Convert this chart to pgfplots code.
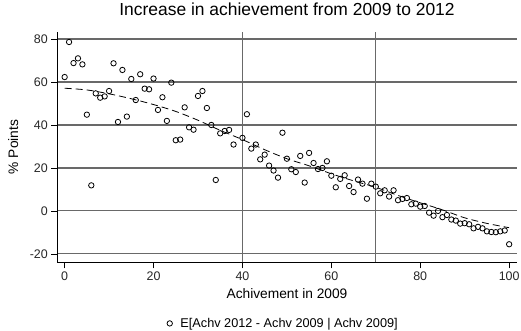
\documentclass[border=0pt]{standalone}
\usepackage{fontspec}
\setmainfont{Liberation Sans}
\usepackage{pgfplots}
\pgfplotsset{compat=1.18}
\definecolor{gridgray}{RGB}{105,105,105}
\begin{document}
\begin{tikzpicture}
\useasboundingbox (-57.3bp,-68.7bp) rectangle (463.7bp,262.3bp);
\begin{axis}[
  scale only axis, width=459.4bp, height=230.6bp,
  xmin=-1.65, xmax=101.7, ymin=-23.9, ymax=83.4,
  axis x line=bottom, axis y line=left,
  axis line style={-, black, line width=0.8bp},
  xtick={0,20,...,100}, ytick={-20,0,...,80},
  ymajorgrids, major grid style={gridgray, line width=1.1bp},
  tick align=outside, major tick length=6bp,
  tick style={black, line width=0.8bp},
  /pgf/number format/assume math mode=true,
  ticklabel style={font=\fontsize{12.5}{12.5}\selectfont, text=black!85},
  title={Increase in achievement from 2009 to 2012},
  title style={font=\fontsize{17.5}{17.5}\selectfont, at={(0.5,1)}, anchor=base, yshift=10.7bp},
  xlabel={Achivement in 2009},
  xlabel style={font=\fontsize{13.8}{13.8}\selectfont, at={(axis description cs:0.5,0)}, anchor=base, yshift=-36bp},
  ylabel={\% Points},
  ylabel style={font=\fontsize{13.8}{13.8}\selectfont, at={(axis description cs:-0.0855,0.5)}, anchor=base},
  legend style={at={(axis description cs:0.491,-0.265)}, anchor=center, draw=none, fill=none,
    font=\fontsize{12.75}{12.75}\selectfont},
  legend image code/.code={\draw[#1] plot coordinates {(0bp,0bp)}; \path (-3.5bp,0bp) (8.5bp,0bp);},
  clip=false,
]
\draw[gridgray, line width=1.1bp] (axis cs:40,-23.9) -- (axis cs:40,83.4);
\draw[gridgray, line width=1.1bp] (axis cs:70,-23.9) -- (axis cs:70,83.4);
\addplot[only marks, mark=o, mark size=2.7bp, mark options={line width=0.8bp, black}] coordinates {
(0,62.3)(1,78.6)(2,68.8)(3,71.0)(4,68.2)(5,44.8)(6,11.9)(7,54.7)(8,52.7)(9,53.3)
(10,55.8)(11,68.7)(12,41.4)(13,65.6)(14,43.9)(15,61.4)(16,51.6)(17,63.6)(18,56.9)(19,56.6)
(20,61.6)(21,47.0)(22,52.9)(23,41.9)(24,59.7)(25,32.9)(26,33.2)(27,48.2)(28,38.9)(29,37.8)
(30,53.5)(31,55.8)(32,47.9)(33,40.0)(34,14.4)(35,36.1)(36,37.2)(37,37.7)(38,30.9)
(40,34.0)(41,45.0)(42,29.0)(43,30.9)(44,24.0)(45,26.2)(46,21.1)(47,18.8)(48,15.5)(49,36.4)
(50,24.3)(51,19.4)(52,18.1)(53,25.6)(54,13.2)(55,27.0)(56,22.3)(57,19.5)(58,20.0)(59,23.1)
(60,16.4)(61,11.0)(62,14.9)(63,16.6)(64,11.6)(65,8.8)(66,14.6)(67,12.7)(68,5.7)(69,12.7)
(70,11.3)(71,8.2)(72,9.6)(73,6.7)(74,9.6)(75,5.0)(76,5.6)(77,6.0)(78,3.1)(79,3.4)
(80,2.0)(81,2.3)(82,-0.8)(83,-2.2)(84,0.0)(85,-2.9)(86,-1.9)(87,-4.0)(88,-4.5)(89,-5.9)
(90,-5.7)(91,-6.2)(92,-8.1)(93,-7.4)(94,-8.1)(95,-9.5)(96,-9.8)(97,-9.9)(98,-9.5)(99,-9.1)
(100,-15.5)
};
\addlegendentry{E[Achv 2012 - Achv 2009 | Achv 2009]}
\addplot[black, line width=0.8bp, dash pattern=on 7bp off 4bp, smooth, forget plot] coordinates {
(0,57.1)(5,56.3)(10,54.5)(15,52.2)(20,49.5)(25,46.3)(30,42.2)(35,37.5)(40,33.2)(45,28.5)
(50,24.3)(55,21.0)(60,17.3)(65,14.0)(70,11.0)(75,7.2)(80,3.8)(85,0.5)(90,-3.2)(95,-5.8)(100,-7.8)
};
\end{axis}
\end{tikzpicture}
\end{document}
